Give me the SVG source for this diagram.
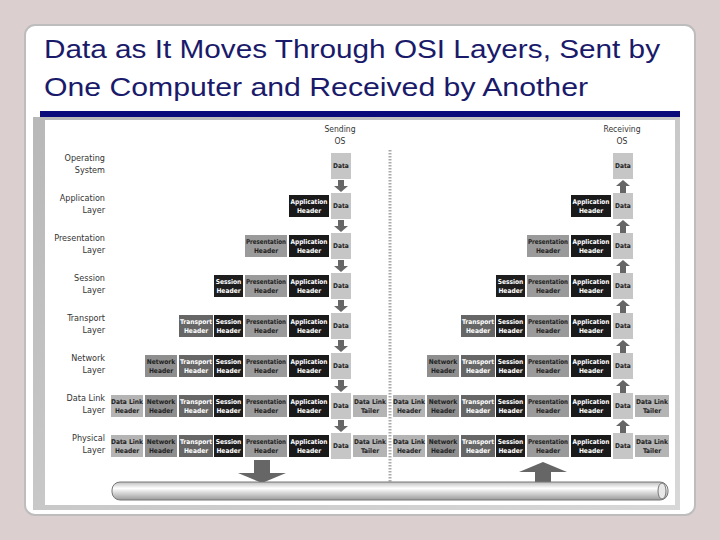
<svg xmlns="http://www.w3.org/2000/svg" width="720" height="540" viewBox="0 0 720 540">
<defs>
<linearGradient id="pipe" x1="0" y1="0" x2="0" y2="1"><stop offset="0" stop-color="#bdbdbd"/><stop offset="0.35" stop-color="#ffffff"/><stop offset="1" stop-color="#9a9a9a"/></linearGradient>
<linearGradient id="frame" x1="0" y1="0" x2="1" y2="1"><stop offset="0" stop-color="#b8b8b8"/><stop offset="1" stop-color="#d8d8d8"/></linearGradient>
<g id="down"><rect x="-3" y="-14" width="6" height="7" fill="#666"/><polygon points="-7,-8 7,-8 0,-2" fill="#666"/></g>
<g id="up"><rect x="-3" y="-8" width="6" height="7" fill="#666"/><polygon points="-7,-8 7,-8 0,-14" fill="#666"/></g>
</defs>
<style>
.t{font-family:"DejaVu Sans Condensed","DejaVu Sans",sans-serif;font-weight:bold;font-size:6.6px;text-anchor:middle}
.w{fill:#fff}.k{fill:#222}
.lab{font-family:"DejaVu Sans Condensed","DejaVu Sans",sans-serif;font-size:9px;fill:#333;text-anchor:end}
.os{font-family:"DejaVu Sans Condensed","DejaVu Sans",sans-serif;font-size:8.5px;fill:#333;text-anchor:middle}
.title{font-family:"Liberation Sans",Arial,sans-serif;font-size:26px;fill:#1a1a6a}
.dlh{fill:#b4b4b4}.nh{fill:#8e8e8e}.th{fill:#666}.sh{fill:#1e1e1e}.ph{fill:#9a9a9a}.ah{fill:#1a1a1a}.d{fill:#c6c6c6}
</style>
<rect width="720" height="540" fill="#dccfcf"/>
<rect x="25" y="25" width="670" height="490" rx="10" fill="#fff" stroke="#bdbdbd" stroke-width="2"/>
<text class="title" x="44" y="58" textLength="616" lengthAdjust="spacingAndGlyphs">Data as It Moves Through OSI Layers, Sent by</text>
<text class="title" x="44" y="96" textLength="544" lengthAdjust="spacingAndGlyphs">One Computer and Received by Another</text>
<rect x="40" y="111" width="640" height="6" fill="#0a0a7a"/>
<rect x="33" y="117" width="647" height="393" fill="url(#frame)"/>
<rect x="45" y="120" width="630" height="385" fill="#fff"/>
<g id="labels">
<text class="lab" x="105" y="161">Operating</text><text class="lab" x="105" y="173">System</text>
<text class="lab" x="105" y="201">Application</text><text class="lab" x="105" y="213">Layer</text>
<text class="lab" x="105" y="241">Presentation</text><text class="lab" x="105" y="253">Layer</text>
<text class="lab" x="105" y="281">Session</text><text class="lab" x="105" y="293">Layer</text>
<text class="lab" x="105" y="321">Transport</text><text class="lab" x="105" y="333">Layer</text>
<text class="lab" x="105" y="361">Network</text><text class="lab" x="105" y="373">Layer</text>
<text class="lab" x="105" y="401">Data Link</text><text class="lab" x="105" y="413">Layer</text>
<text class="lab" x="105" y="441">Physical</text><text class="lab" x="105" y="453">Layer</text>
<text class="os" x="340" y="132">Sending</text><text class="os" x="340" y="144">OS</text>
<text class="os" x="622" y="132">Receiving</text><text class="os" x="622" y="144">OS</text>
</g>
<line x1="390" y1="150" x2="390" y2="482" stroke="#aaa" stroke-width="3" stroke-dasharray="1.5,1.5"/>
<g id="sender">
<g id="s-os"><rect class="d" x="331" y="153" width="20" height="26"/><text class="t k" x="341" y="168">Data</text></g>
<g id="s-app"><rect class="ah" x="289" y="195" width="40" height="22"/><text class="t w" x="309" y="204" textLength="37" lengthAdjust="spacingAndGlyphs">Application</text><text class="t w" x="309" y="213">Header</text><rect class="d" x="331" y="193" width="20" height="26"/><text class="t k" x="341" y="208">Data</text></g>
<g id="s-pres"><rect class="ph" x="245" y="235" width="42" height="22"/><text class="t k" x="266" y="244" textLength="40" lengthAdjust="spacingAndGlyphs">Presentation</text><text class="t k" x="266" y="253">Header</text><rect class="ah" x="289" y="235" width="40" height="22"/><text class="t w" x="309" y="244" textLength="37" lengthAdjust="spacingAndGlyphs">Application</text><text class="t w" x="309" y="253">Header</text><rect class="d" x="331" y="233" width="20" height="26"/><text class="t k" x="341" y="248">Data</text></g>
<g id="s-sess"><rect class="sh" x="214" y="275" width="29" height="22"/><text class="t w" x="228.5" y="284">Session</text><text class="t w" x="228.5" y="293">Header</text><rect class="ph" x="245" y="275" width="42" height="22"/><text class="t k" x="266" y="284" textLength="40" lengthAdjust="spacingAndGlyphs">Presentation</text><text class="t k" x="266" y="293">Header</text><rect class="ah" x="289" y="275" width="40" height="22"/><text class="t w" x="309" y="284" textLength="37" lengthAdjust="spacingAndGlyphs">Application</text><text class="t w" x="309" y="293">Header</text><rect class="d" x="331" y="273" width="20" height="26"/><text class="t k" x="341" y="288">Data</text></g>
<g id="s-trans"><rect class="th" x="179" y="315" width="34" height="22"/><text class="t w" x="196" y="324">Transport</text><text class="t w" x="196" y="333">Header</text><rect class="sh" x="214" y="315" width="29" height="22"/><text class="t w" x="228.5" y="324">Session</text><text class="t w" x="228.5" y="333">Header</text><rect class="ph" x="245" y="315" width="42" height="22"/><text class="t k" x="266" y="324" textLength="40" lengthAdjust="spacingAndGlyphs">Presentation</text><text class="t k" x="266" y="333">Header</text><rect class="ah" x="289" y="315" width="40" height="22"/><text class="t w" x="309" y="324" textLength="37" lengthAdjust="spacingAndGlyphs">Application</text><text class="t w" x="309" y="333">Header</text><rect class="d" x="331" y="313" width="20" height="26"/><text class="t k" x="341" y="328">Data</text></g>
<g id="s-net"><rect class="nh" x="145" y="355" width="32" height="22"/><text class="t k" x="161" y="364">Network</text><text class="t k" x="161" y="373">Header</text><rect class="th" x="179" y="355" width="34" height="22"/><text class="t w" x="196" y="364">Transport</text><text class="t w" x="196" y="373">Header</text><rect class="sh" x="214" y="355" width="29" height="22"/><text class="t w" x="228.5" y="364">Session</text><text class="t w" x="228.5" y="373">Header</text><rect class="ph" x="245" y="355" width="42" height="22"/><text class="t k" x="266" y="364" textLength="40" lengthAdjust="spacingAndGlyphs">Presentation</text><text class="t k" x="266" y="373">Header</text><rect class="ah" x="289" y="355" width="40" height="22"/><text class="t w" x="309" y="364" textLength="37" lengthAdjust="spacingAndGlyphs">Application</text><text class="t w" x="309" y="373">Header</text><rect class="d" x="331" y="353" width="20" height="26"/><text class="t k" x="341" y="368">Data</text></g>
<g id="s-dl"><rect class="dlh" x="111" y="395" width="32" height="22"/><text class="t k" x="127" y="404">Data Link</text><text class="t k" x="127" y="413">Header</text><rect class="nh" x="145" y="395" width="32" height="22"/><text class="t k" x="161" y="404">Network</text><text class="t k" x="161" y="413">Header</text><rect class="th" x="179" y="395" width="34" height="22"/><text class="t w" x="196" y="404">Transport</text><text class="t w" x="196" y="413">Header</text><rect class="sh" x="214" y="395" width="29" height="22"/><text class="t w" x="228.5" y="404">Session</text><text class="t w" x="228.5" y="413">Header</text><rect class="ph" x="245" y="395" width="42" height="22"/><text class="t k" x="266" y="404" textLength="40" lengthAdjust="spacingAndGlyphs">Presentation</text><text class="t k" x="266" y="413">Header</text><rect class="ah" x="289" y="395" width="40" height="22"/><text class="t w" x="309" y="404" textLength="37" lengthAdjust="spacingAndGlyphs">Application</text><text class="t w" x="309" y="413">Header</text><rect class="d" x="331" y="393" width="20" height="26"/><text class="t k" x="341" y="408">Data</text><rect class="dlh" x="353" y="395" width="34" height="22"/><text class="t k" x="370" y="404">Data Link</text><text class="t k" x="370" y="413">Tailer</text></g>
<g id="s-phy"><rect class="dlh" x="111" y="435" width="32" height="22"/><text class="t k" x="127" y="444">Data Link</text><text class="t k" x="127" y="453">Header</text><rect class="nh" x="145" y="435" width="32" height="22"/><text class="t k" x="161" y="444">Network</text><text class="t k" x="161" y="453">Header</text><rect class="th" x="179" y="435" width="34" height="22"/><text class="t w" x="196" y="444">Transport</text><text class="t w" x="196" y="453">Header</text><rect class="sh" x="214" y="435" width="29" height="22"/><text class="t w" x="228.5" y="444">Session</text><text class="t w" x="228.5" y="453">Header</text><rect class="ph" x="245" y="435" width="42" height="22"/><text class="t k" x="266" y="444" textLength="40" lengthAdjust="spacingAndGlyphs">Presentation</text><text class="t k" x="266" y="453">Header</text><rect class="ah" x="289" y="435" width="40" height="22"/><text class="t w" x="309" y="444" textLength="37" lengthAdjust="spacingAndGlyphs">Application</text><text class="t w" x="309" y="453">Header</text><rect class="d" x="331" y="433" width="20" height="26"/><text class="t k" x="341" y="448">Data</text><rect class="dlh" x="353" y="435" width="34" height="22"/><text class="t k" x="370" y="444">Data Link</text><text class="t k" x="370" y="453">Tailer</text></g>
</g>
<g id="receiver" transform="translate(282,0)">
<g id="r-os"><rect class="d" x="331" y="153" width="20" height="26"/><text class="t k" x="341" y="168">Data</text></g>
<g id="r-app"><rect class="ah" x="289" y="195" width="40" height="22"/><text class="t w" x="309" y="204" textLength="37" lengthAdjust="spacingAndGlyphs">Application</text><text class="t w" x="309" y="213">Header</text><rect class="d" x="331" y="193" width="20" height="26"/><text class="t k" x="341" y="208">Data</text></g>
<g id="r-pres"><rect class="ph" x="245" y="235" width="42" height="22"/><text class="t k" x="266" y="244" textLength="40" lengthAdjust="spacingAndGlyphs">Presentation</text><text class="t k" x="266" y="253">Header</text><rect class="ah" x="289" y="235" width="40" height="22"/><text class="t w" x="309" y="244" textLength="37" lengthAdjust="spacingAndGlyphs">Application</text><text class="t w" x="309" y="253">Header</text><rect class="d" x="331" y="233" width="20" height="26"/><text class="t k" x="341" y="248">Data</text></g>
<g id="r-sess"><rect class="sh" x="214" y="275" width="29" height="22"/><text class="t w" x="228.5" y="284">Session</text><text class="t w" x="228.5" y="293">Header</text><rect class="ph" x="245" y="275" width="42" height="22"/><text class="t k" x="266" y="284" textLength="40" lengthAdjust="spacingAndGlyphs">Presentation</text><text class="t k" x="266" y="293">Header</text><rect class="ah" x="289" y="275" width="40" height="22"/><text class="t w" x="309" y="284" textLength="37" lengthAdjust="spacingAndGlyphs">Application</text><text class="t w" x="309" y="293">Header</text><rect class="d" x="331" y="273" width="20" height="26"/><text class="t k" x="341" y="288">Data</text></g>
<g id="r-trans"><rect class="th" x="179" y="315" width="34" height="22"/><text class="t w" x="196" y="324">Transport</text><text class="t w" x="196" y="333">Header</text><rect class="sh" x="214" y="315" width="29" height="22"/><text class="t w" x="228.5" y="324">Session</text><text class="t w" x="228.5" y="333">Header</text><rect class="ph" x="245" y="315" width="42" height="22"/><text class="t k" x="266" y="324" textLength="40" lengthAdjust="spacingAndGlyphs">Presentation</text><text class="t k" x="266" y="333">Header</text><rect class="ah" x="289" y="315" width="40" height="22"/><text class="t w" x="309" y="324" textLength="37" lengthAdjust="spacingAndGlyphs">Application</text><text class="t w" x="309" y="333">Header</text><rect class="d" x="331" y="313" width="20" height="26"/><text class="t k" x="341" y="328">Data</text></g>
<g id="r-net"><rect class="nh" x="145" y="355" width="32" height="22"/><text class="t k" x="161" y="364">Network</text><text class="t k" x="161" y="373">Header</text><rect class="th" x="179" y="355" width="34" height="22"/><text class="t w" x="196" y="364">Transport</text><text class="t w" x="196" y="373">Header</text><rect class="sh" x="214" y="355" width="29" height="22"/><text class="t w" x="228.5" y="364">Session</text><text class="t w" x="228.5" y="373">Header</text><rect class="ph" x="245" y="355" width="42" height="22"/><text class="t k" x="266" y="364" textLength="40" lengthAdjust="spacingAndGlyphs">Presentation</text><text class="t k" x="266" y="373">Header</text><rect class="ah" x="289" y="355" width="40" height="22"/><text class="t w" x="309" y="364" textLength="37" lengthAdjust="spacingAndGlyphs">Application</text><text class="t w" x="309" y="373">Header</text><rect class="d" x="331" y="353" width="20" height="26"/><text class="t k" x="341" y="368">Data</text></g>
<g id="r-dl"><rect class="dlh" x="111" y="395" width="32" height="22"/><text class="t k" x="127" y="404">Data Link</text><text class="t k" x="127" y="413">Header</text><rect class="nh" x="145" y="395" width="32" height="22"/><text class="t k" x="161" y="404">Network</text><text class="t k" x="161" y="413">Header</text><rect class="th" x="179" y="395" width="34" height="22"/><text class="t w" x="196" y="404">Transport</text><text class="t w" x="196" y="413">Header</text><rect class="sh" x="214" y="395" width="29" height="22"/><text class="t w" x="228.5" y="404">Session</text><text class="t w" x="228.5" y="413">Header</text><rect class="ph" x="245" y="395" width="42" height="22"/><text class="t k" x="266" y="404" textLength="40" lengthAdjust="spacingAndGlyphs">Presentation</text><text class="t k" x="266" y="413">Header</text><rect class="ah" x="289" y="395" width="40" height="22"/><text class="t w" x="309" y="404" textLength="37" lengthAdjust="spacingAndGlyphs">Application</text><text class="t w" x="309" y="413">Header</text><rect class="d" x="331" y="393" width="20" height="26"/><text class="t k" x="341" y="408">Data</text><rect class="dlh" x="353" y="395" width="34" height="22"/><text class="t k" x="370" y="404">Data Link</text><text class="t k" x="370" y="413">Tailer</text></g>
<g id="r-phy"><rect class="dlh" x="111" y="435" width="32" height="22"/><text class="t k" x="127" y="444">Data Link</text><text class="t k" x="127" y="453">Header</text><rect class="nh" x="145" y="435" width="32" height="22"/><text class="t k" x="161" y="444">Network</text><text class="t k" x="161" y="453">Header</text><rect class="th" x="179" y="435" width="34" height="22"/><text class="t w" x="196" y="444">Transport</text><text class="t w" x="196" y="453">Header</text><rect class="sh" x="214" y="435" width="29" height="22"/><text class="t w" x="228.5" y="444">Session</text><text class="t w" x="228.5" y="453">Header</text><rect class="ph" x="245" y="435" width="42" height="22"/><text class="t k" x="266" y="444" textLength="40" lengthAdjust="spacingAndGlyphs">Presentation</text><text class="t k" x="266" y="453">Header</text><rect class="ah" x="289" y="435" width="40" height="22"/><text class="t w" x="309" y="444" textLength="37" lengthAdjust="spacingAndGlyphs">Application</text><text class="t w" x="309" y="453">Header</text><rect class="d" x="331" y="433" width="20" height="26"/><text class="t k" x="341" y="448">Data</text><rect class="dlh" x="353" y="435" width="34" height="22"/><text class="t k" x="370" y="444">Data Link</text><text class="t k" x="370" y="453">Tailer</text></g>
</g>
<g id="connectors">
<use href="#down" x="341" y="194"/><use href="#down" x="341" y="234"/><use href="#down" x="341" y="274"/><use href="#down" x="341" y="314"/><use href="#down" x="341" y="354"/><use href="#down" x="341" y="394"/><use href="#down" x="341" y="434"/>
<use href="#up" x="623" y="194"/><use href="#up" x="623" y="234"/><use href="#up" x="623" y="274"/><use href="#up" x="623" y="314"/><use href="#up" x="623" y="354"/><use href="#up" x="623" y="394"/><use href="#up" x="623" y="434"/>
<rect x="254" y="460" width="16" height="13" fill="#666"/><polygon points="238,473 286,473 262,483" fill="#666"/>
<polygon points="519,472 567,472 543,462" fill="#666"/><rect x="535" y="472" width="16" height="11" fill="#666"/>
</g>
<g id="pipe-g">
<rect x="112" y="482" width="556" height="18" rx="8" fill="url(#pipe)" stroke="#777"/>
<ellipse cx="662" cy="491" rx="4" ry="8" fill="#e8e8e8" stroke="#777"/>
</g>
</svg>
